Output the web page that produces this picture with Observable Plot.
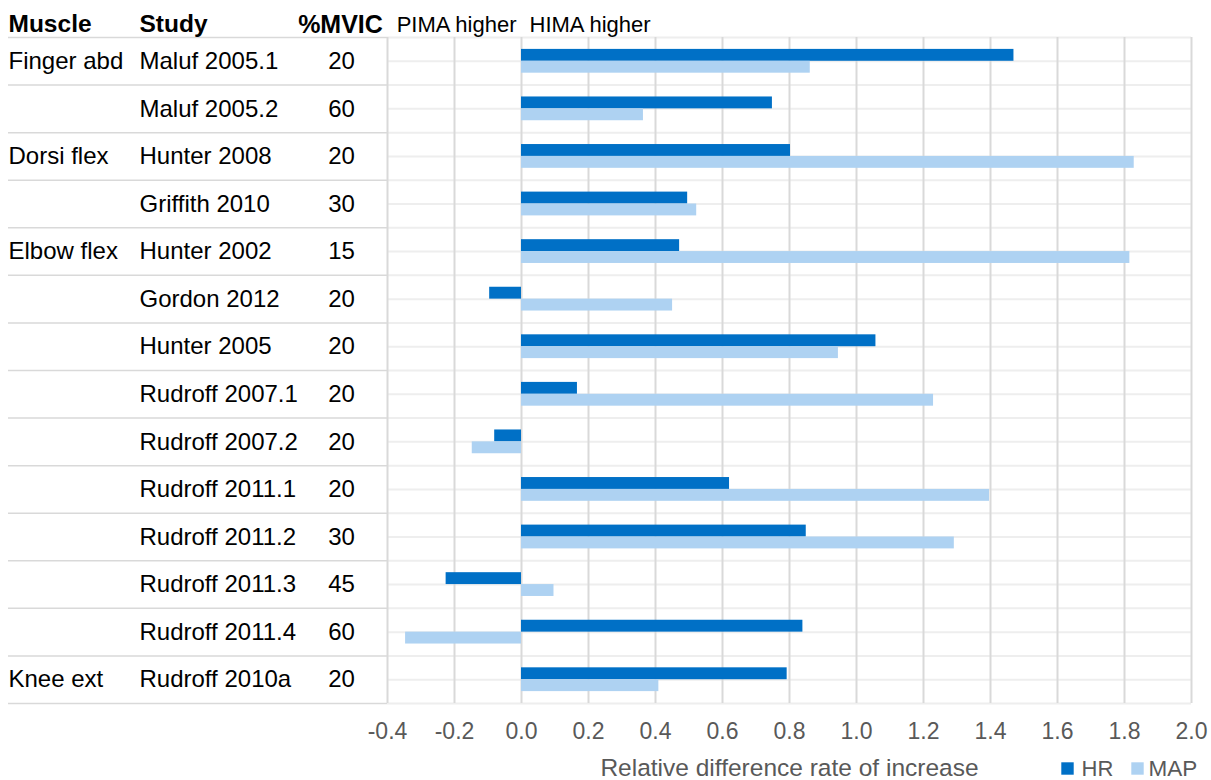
<!DOCTYPE html>
<html>
<head>
<meta charset="utf-8">
<script src="https://cdn.jsdelivr.net/npm/d3@7"></script>
<script src="https://cdn.jsdelivr.net/npm/@observablehq/plot@0.6"></script>
<style>
  html, body { margin: 0; padding: 0; background: #fff; }
  #chart svg { display: block; }
</style>
</head>
<body>
<div id="chart"></div>
<script>
// ---- data ----
const studies = ["Maluf 2005.1", "Maluf 2005.2", "Hunter 2008", "Griffith 2010", "Hunter 2002",
  "Gordon 2012", "Hunter 2005", "Rudroff 2007.1", "Rudroff 2007.2", "Rudroff 2011.1",
  "Rudroff 2011.2", "Rudroff 2011.3", "Rudroff 2011.4", "Rudroff 2010a"];
const muscles = ["Finger abd", "", "Dorsi flex", "", "Elbow flex", "", "", "", "", "", "", "", "", "Knee ext"];
const mvic = [20, 60, 20, 30, 15, 20, 20, 20, 20, 20, 30, 45, 60, 20];
const hrValues = [1.470, 0.749, 0.803, 0.496, 0.472, -0.095, 1.058, 0.167, -0.080, 0.621, 0.850, -0.225, 0.840, 0.793];
const mapValues = [0.862, 0.364, 1.829, 0.523, 1.816, 0.451, 0.946, 1.230, -0.147, 1.397, 1.292, 0.097, -0.346, 0.410];
const xTicks = [-0.4, -0.2, 0.0, 0.2, 0.4, 0.6, 0.8, 1.0, 1.2, 1.4, 1.6, 1.8, 2.0];
const columnHeaders = ["Muscle", "Study", "%MVIC"];
const sideHeaders = ["PIMA higher", "HIMA higher"];
const seriesNames = ["HR", "MAP"];
const axisTitle = "Relative difference rate of increase";

// ---- layout ----
const W = 1211, H = 780;
const mL = 387, mR = 20, mT = 37, mB = 77;
const bw = (H - mT - mB) / studies.length;
const xDomain = [-0.4, 2.0];
const pxPerUnit = (W - mL - mR) / (xDomain[1] - xDomain[0]);
const tableLeft = xDomain[0] - (mL - 8) / pxPerUnit;
const darkBlue = "#0070C6", lightBlue = "#AED2F2";
const font = "'Liberation Sans', Arial, sans-serif";
const mid = "middle";

const rows = studies.map((s, i) => ({study: s, muscle: muscles[i], mvic: mvic[i], hr: hrValues[i], map: mapValues[i]}));
const last = [rows[rows.length - 1]];

const chart = Plot.plot({
  width: W, height: H,
  marginLeft: mL, marginRight: mR, marginTop: mT, marginBottom: mB,
  style: {fontFamily: font, background: "#fff", overflow: "visible"},
  x: {domain: xDomain, axis: null},
  y: {domain: studies, padding: 0, round: false, axis: null},
  marks: [
    // horizontal light grid (row boundaries + mid-row)
    Plot.ruleY(rows, {y: "study", dy: -bw / 2, stroke: "#eeeeee", strokeWidth: 2}),
    Plot.ruleY(rows, {y: "study", stroke: "#eeeeee", strokeWidth: 2}),
    Plot.ruleY(last, {y: "study", dy: bw / 2, stroke: "#eeeeee", strokeWidth: 2}),
    // table separator lines (left side)
    Plot.ruleY(rows, {y: "study", x1: tableLeft, x2: xDomain[0], dy: -bw / 2, stroke: "#d9d9d9", strokeWidth: 1.5}),
    Plot.ruleY(last, {y: "study", x1: tableLeft, x2: xDomain[0], dy: bw / 2, stroke: "#d9d9d9", strokeWidth: 1.5}),
    // vertical grid
    Plot.ruleX(xTicks, {x: d => d, stroke: "#d9d9d9", strokeWidth: 2}),
    // bars
    Plot.barX(rows, {x: "hr", y: "study", fill: darkBlue, insetTop: bw * 0.25, insetBottom: bw * 0.5}),
    Plot.barX(rows, {x: "map", y: "study", fill: lightBlue, insetTop: bw * 0.5, insetBottom: bw * 0.25}),
    // tick labels
    Plot.text(xTicks, {x: d => d, text: d => d.toFixed(1), frameAnchor: "bottom", lineAnchor: mid, dy: 28, fill: "#595959", fontSize: 23}),
    // axis title
    Plot.text([axisTitle], {text: d => d, frameAnchor: "bottom", lineAnchor: mid, dy: 65, fill: "#595959", fontSize: 24.5}),
    // table columns
    Plot.text(rows, {y: "study", text: "muscle", frameAnchor: "left", lineAnchor: mid, dx: 8 - mL, textAnchor: "start", fontSize: 24, fill: "#000"}),
    Plot.text(rows, {y: "study", text: "study", frameAnchor: "left", lineAnchor: mid, dx: 139 - mL, textAnchor: "start", fontSize: 24, fill: "#000"}),
    Plot.text(rows, {y: "study", text: d => String(d.mvic), frameAnchor: "left", lineAnchor: mid, dx: 341 - mL, textAnchor: "middle", fontSize: 24, fill: "#000"}),
    // column headers
    Plot.text([columnHeaders[0]], {text: d => d, frameAnchor: "top-left", lineAnchor: mid, dx: 8 - mL, dy: -13, textAnchor: "start", fontWeight: "bold", fontSize: 24.5, fill: "#000"}),
    Plot.text([columnHeaders[1]], {text: d => d, frameAnchor: "top-left", lineAnchor: mid, dx: 139 - mL, dy: -13, textAnchor: "start", fontWeight: "bold", fontSize: 24.5, fill: "#000"}),
    Plot.text([columnHeaders[2]], {text: d => d, frameAnchor: "top-left", lineAnchor: mid, dx: 340 - mL, dy: -13, textAnchor: "middle", fontWeight: "bold", fontSize: 25, fill: "#000"}),
    Plot.text([{t: sideHeaders[0], x: 0}], {x: "x", text: "t", frameAnchor: "top", lineAnchor: mid, dx: -5, dy: -13, textAnchor: "end", fontSize: 22, fill: "#000"}),
    Plot.text([{t: sideHeaders[1], x: 0}], {x: "x", text: "t", frameAnchor: "top", lineAnchor: mid, dx: 8, dy: -13, textAnchor: "start", fontSize: 22, fill: "#000"}),
    // legend
    Plot.dot([darkBlue], {frameAnchor: "bottom-right", dx: -124, dy: 65, symbol: "square", r: 7, fill: d => d, stroke: null}),
    Plot.text([seriesNames[0]], {text: d => d, frameAnchor: "bottom-right", lineAnchor: mid, dx: -110, dy: 65, textAnchor: "start", fontSize: 22, fill: "#595959"}),
    Plot.dot([lightBlue], {frameAnchor: "bottom-right", dx: -54, dy: 65, symbol: "square", r: 7, fill: d => d, stroke: null}),
    Plot.text([seriesNames[1]], {text: d => d, frameAnchor: "bottom-right", lineAnchor: mid, dx: -43, dy: 65, textAnchor: "start", fontSize: 22.5, fill: "#595959"})
  ]
});
document.getElementById("chart").appendChild(chart);
</script>
</body>
</html>
